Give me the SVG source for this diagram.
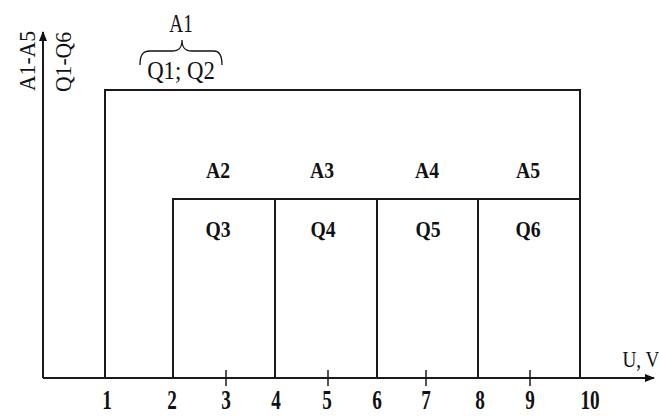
<svg xmlns="http://www.w3.org/2000/svg" width="659" height="416" viewBox="0 0 659 416">
<defs>
<style>
.ln{stroke:#1a1a1a;stroke-width:2;fill:none}
.tk{stroke:#1a1a1a;stroke-width:1.5}
.t{font-family:"Liberation Serif","Times New Roman",serif;font-size:24px;fill:#111;text-anchor:middle}
.lb{font-family:"Liberation Serif","Times New Roman",serif;font-size:24px;fill:#111;text-anchor:middle;font-weight:bold}
</style>
<marker id="ah" viewBox="0 0 10 10" refX="9" refY="5" markerWidth="10" markerHeight="10" markerUnits="userSpaceOnUse" orient="auto">
<path d="M0,1 L10,5 L0,9 Z" fill="#111"/>
</marker>
</defs>
<rect width="659" height="416" fill="#fff"/>
<g id="connectors">
<line class="ln" x1="43" y1="378" x2="43" y2="32" marker-end="url(#ah)"/>
<line class="ln" x1="43" y1="378" x2="654" y2="378" marker-end="url(#ah)"/>
<line class="tk" x1="226" y1="370" x2="226" y2="386"/>
<line class="tk" x1="328" y1="370" x2="328" y2="386"/>
<line class="tk" x1="426" y1="370" x2="426" y2="386"/>
<line class="tk" x1="530" y1="370" x2="530" y2="386"/>
</g>
<g id="A1">
<polyline class="ln" points="105,378 105,90 580,90 580,378"/>
<text class="t" transform="translate(181,32) scale(0.8,1.05)">A1</text>
<path d="M140,65 C140,56 142,51 150,51 L172,51 C179,51 182,48 182,40 C182,48 185,51 192,51 L214,51 C220,51 222,56 222,65" fill="none" stroke="#111" stroke-width="1.3"/>
<text class="t" transform="translate(181,79) scale(0.95,1.05)">Q1; Q2</text>
</g>
<g id="A2">
<polyline class="ln" points="173,378 173,199 275,199"/>
<text class="lb" transform="translate(218,178) scale(0.82,1)">A2</text>
<text class="lb" transform="translate(218,237) scale(0.82,1)">Q3</text>
</g>
<g id="A3">
<polyline class="ln" points="275,378 275,199 377,199"/>
<text class="lb" transform="translate(322,178) scale(0.82,1)">A3</text>
<text class="lb" transform="translate(323,237) scale(0.82,1)">Q4</text>
</g>
<g id="A4">
<polyline class="ln" points="377,378 377,199 478,199"/>
<text class="lb" transform="translate(427,178) scale(0.82,1)">A4</text>
<text class="lb" transform="translate(428,237) scale(0.82,1)">Q5</text>
</g>
<g id="A5">
<polyline class="ln" points="478,378 478,199 580,199"/>
<text class="lb" transform="translate(528,178) scale(0.82,1)">A5</text>
<text class="lb" transform="translate(528,237) scale(0.82,1)">Q6</text>
</g>
<g id="axis-labels">
<text class="t" transform="translate(35,61) rotate(-90) scale(0.9,0.92)">A1-A5</text>
<text class="t" transform="translate(71,62) rotate(-90) scale(0.9,0.92)">Q1-Q6</text>
<text class="t" transform="translate(641,367) scale(0.8,1)">U, V</text>
<text class="lb" transform="translate(107,409) scale(0.8,1.1)">1</text>
<text class="lb" transform="translate(172,409) scale(0.8,1.1)">2</text>
<text class="lb" transform="translate(226,409) scale(0.8,1.1)">3</text>
<text class="lb" transform="translate(276,409) scale(0.8,1.1)">4</text>
<text class="lb" transform="translate(327,409) scale(0.8,1.1)">5</text>
<text class="lb" transform="translate(377,409) scale(0.8,1.1)">6</text>
<text class="lb" transform="translate(426,409) scale(0.8,1.1)">7</text>
<text class="lb" transform="translate(480,409) scale(0.8,1.1)">8</text>
<text class="lb" transform="translate(530,409) scale(0.8,1.1)">9</text>
<text class="lb" transform="translate(590,409) scale(0.8,1.1)">10</text>
</g>
</svg>
